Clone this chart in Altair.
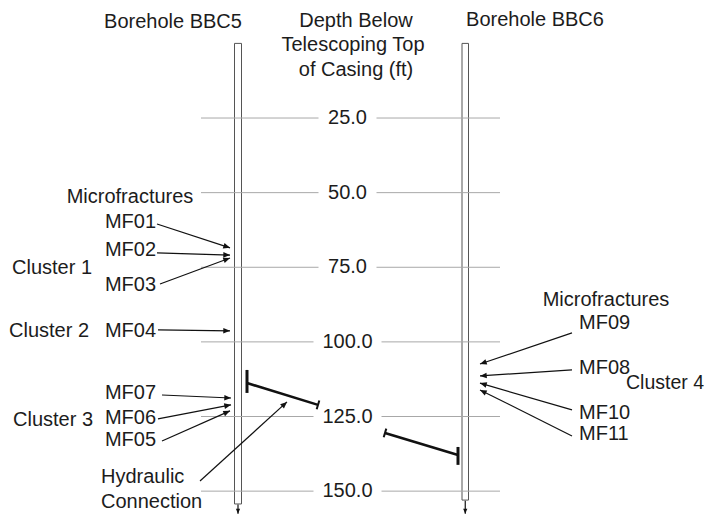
import math
import pandas as pd
import altair as alt

# ---------------- data ----------------
# depth grid (ft below telescoping top of casing)
depth_ticks = [25, 50, 75, 100, 125, 150]
depth_labels = ["25.0", "50.0", "75.0", "100.0", "125.0", "150.0"]

# boreholes: horizontal position (diagram units) and total depth (ft)
bore_names = ["BBC5", "BBC6"]
bore_x_left = [234.5, 462.0]
bore_x_right = [241.5, 468.5]
bore_bottom = [154.3, 153.0]

# microfracture arrows: label end (x1, d1) -> fracture at borehole (x2, d2)
arrow_names = ["MF01", "MF02", "MF03", "MF04", "MF07", "MF06", "MF05", "Hydraulic",
               "MF09", "MF08", "MF10", "MF11"]
arrow_x1 = [157, 157, 160, 158, 162, 158, 162, 200, 572, 572, 572, 572]
arrow_d1 = [60.5, 70.2, 80.6, 96.0, 117.8, 125.8, 133.2, 146.6, 97.0, 109.4, 122.8, 131.5]
arrow_x2 = [230, 230, 230, 230, 231, 231, 230, 287, 480, 480, 480, 480]
arrow_d2 = [68.5, 70.9, 71.9, 96.3, 118.8, 121.1, 123.1, 120.1, 107.4, 111.4, 113.8, 116.1]

# hydraulic connection segments (BBC5 interval -> BBC6 interval)
hyd_x1 = [247, 385]
hyd_d1 = [113.8, 130.5]
hyd_x2 = [318, 458]
hyd_d2 = [121.1, 137.9]
# end bars at the borehole ends
bar_x = [247, 458]
bar_d1 = [109.4, 135.2]
bar_d2 = [117.1, 141.2]

# text labels
lab_text = ["MF01", "MF02", "MF03", "MF04", "MF07", "MF06", "MF05",
            "MF09", "MF08", "MF10", "MF11"]
lab_x = [156, 156, 156, 156, 156, 156, 156, 579, 579, 579, 579]
lab_d = [59.8, 69.2, 80.9, 96.3, 117.2, 125.6, 132.9, 93.8, 108.7, 123.9, 131.0]
lab_align = ["right"] * 7 + ["left"] * 4

other_text = ["Cluster 1", "Cluster 2", "Cluster 3",
              "Hydraulic", "Connection"]
other_x = [12, 9, 13, 101, 101]
other_d = [75.2, 96.3, 126.2, 145.3, 153.7]

# right-edge label (sits against the right border)
edge_text = ["Cluster 4"]
edge_x = [704]
edge_d = [113.8]

center_text = ["Borehole BBC5", "Borehole BBC6", "Depth Below", "Telescoping Top",
               "of Casing (ft)", "Microfractures", "Microfractures"]
center_x = [173, 535, 356, 353, 356, 130, 606]
center_d = [-7.2, -7.7, -7.6, 0.5, 8.9, 51.5, 85.9]

# ---------------- helpers ----------------
PX_PER_FT = 2.985
FONT = "Liberation Sans"
TXT = "#1c1c1c"

xs = alt.Scale(domain=[8, 704], nice=False, zero=False)
ys = alt.Scale(domain=[-11.86, 154.98], nice=False, zero=False, reverse=True)


def X(f):
    return alt.X(f, type="quantitative", scale=xs, axis=None)


def X2(f):
    return alt.X2(f)


def Y(f):
    return alt.Y(f, type="quantitative", scale=ys, axis=None)


def Y2(f):
    return alt.Y2(f)


ARROW = "M0,0L-1,-0.42L-1,0.42Z"

# grid segments (leave a gap for the labels)
grid_rows = []
for t, lab in zip(depth_ticks, depth_labels):
    half = 29 + 5 * (len(lab) - 4)
    grid_rows.append({"x1": 201, "x2": 347.5 - half, "d": t})
    grid_rows.append({"x1": 347.5 + half, "x2": 500, "d": t})
grid_df = pd.DataFrame(grid_rows)
grid_lab_df = pd.DataFrame({"x": [347.5] * len(depth_ticks), "d": depth_ticks, "t": depth_labels})

bore_df = pd.DataFrame({"name": bore_names, "xl": bore_x_left, "xr": bore_x_right,
                        "top": [0, 0], "bot": bore_bottom})

arr_df = pd.DataFrame({"n": arrow_names, "x1": arrow_x1, "d1": arrow_d1,
                       "x2": arrow_x2, "d2": arrow_d2})
arr_df["angle"] = [
    math.degrees(math.atan2((b2 - b1) * PX_PER_FT, a2 - a1)) % 360
    for a1, b1, a2, b2 in zip(arr_df.x1, arr_df.d1, arr_df.x2, arr_df.d2)
]

# bottom-of-hole arrows
bot_df = pd.DataFrame({
    "x": [(a + b) / 2 for a, b in zip(bore_x_left, bore_x_right)],
    "d1": [b + 0.2 for b in bore_bottom],
    "d2": [157.6, 157.6],
    "angle": [90, 90],
})

hyd_df = pd.DataFrame({"x1": hyd_x1, "d1": hyd_d1, "x2": hyd_x2, "d2": hyd_d2})
bar_df = pd.DataFrame({"x": bar_x, "d1": bar_d1, "d2": bar_d2})

# small perpendicular ticks at the free ends of the hydraulic segments
tick_rows = []
for (ex, ed), (ox, od) in [((hyd_x2[0], hyd_d2[0]), (hyd_x1[0], hyd_d1[0])),
                           ((hyd_x1[1], hyd_d1[1]), (hyd_x2[1], hyd_d2[1]))]:
    dx = ex - ox
    dy = (ed - od) * PX_PER_FT
    L = math.hypot(dx, dy)
    px, py = -dy / L * 4.5, dx / L * 4.5
    tick_rows.append({"x1": ex - px, "d1": ed - py / PX_PER_FT,
                      "x2": ex + px, "d2": ed + py / PX_PER_FT})
tick_df = pd.DataFrame(tick_rows)

lab_df = pd.DataFrame({"t": lab_text, "x": lab_x, "d": lab_d, "al": lab_align})
lab_left = lab_df[lab_df.al == "right"]
lab_right = lab_df[lab_df.al == "left"]
other_df = pd.DataFrame({"t": other_text, "x": other_x, "d": other_d})
edge_df = pd.DataFrame({"t": edge_text, "x": edge_x, "d": edge_d})
center_df = pd.DataFrame({"t": center_text, "x": center_x, "d": center_d})

# ---------------- layers ----------------
tubes = alt.Chart(bore_df).mark_rect(fill="white", fillOpacity=0, stroke="#555555",
                                     strokeWidth=1).encode(
    x=X("xl"), x2=X2("xr"), y=Y("top"), y2=Y2("bot"))

grid = alt.Chart(grid_df).mark_rule(color="#a8a8a8", strokeWidth=1).encode(
    x=X("x1"), x2=X2("x2"), y=Y("d"))

grid_text = alt.Chart(grid_lab_df).mark_text(font=FONT, fontSize=20, color=TXT,
                                             align="center", baseline="middle").encode(
    x=X("x"), y=Y("d"), text="t:N")

arr_lines = alt.Chart(arr_df).mark_rule(color="#111111", strokeWidth=1.2).encode(
    x=X("x1"), y=Y("d1"), x2=X2("x2"), y2=Y2("d2"))

arr_heads = alt.Chart(arr_df).mark_point(shape=ARROW, filled=True, size=180,
                                         color="#111111", opacity=1).encode(
    x=X("x2"), y=Y("d2"), angle=alt.Angle("angle:Q", scale=None))

bot_lines = alt.Chart(bot_df).mark_rule(color="#111111", strokeWidth=1.2).encode(
    x=X("x"), y=Y("d1"), y2=Y2("d2"))

bot_heads = alt.Chart(bot_df).mark_point(shape=ARROW, filled=True, size=100,
                                         color="#111111", opacity=1).encode(
    x=X("x"), y=Y("d2"), angle=alt.Angle("angle:Q", scale=None))

hyd = alt.Chart(hyd_df).mark_rule(color="#111111", strokeWidth=2.6).encode(
    x=X("x1"), y=Y("d1"), x2=X2("x2"), y2=Y2("d2"))

bars = alt.Chart(bar_df).mark_rule(color="#111111", strokeWidth=3).encode(
    x=X("x"), y=Y("d1"), y2=Y2("d2"))

ticks = alt.Chart(tick_df).mark_rule(color="#111111", strokeWidth=2).encode(
    x=X("x1"), y=Y("d1"), x2=X2("x2"), y2=Y2("d2"))

t_left = alt.Chart(lab_left).mark_text(font=FONT, fontSize=20, color=TXT,
                                       align="right", baseline="middle").encode(
    x=X("x"), y=Y("d"), text="t:N")
t_right = alt.Chart(lab_right).mark_text(font=FONT, fontSize=20, color=TXT,
                                         align="left", baseline="middle").encode(
    x=X("x"), y=Y("d"), text="t:N")
t_other = alt.Chart(other_df).mark_text(font=FONT, fontSize=20, color=TXT,
                                        align="left", baseline="middle").encode(
    x=X("x"), y=Y("d"), text="t:N")
t_edge = alt.Chart(edge_df).mark_text(font=FONT, fontSize=19.5, color=TXT,
                                      align="right", baseline="middle").encode(
    x=X("x"), y=Y("d"), text="t:N")
t_center = alt.Chart(center_df).mark_text(font=FONT, fontSize=20, color=TXT,
                                          align="center", baseline="middle").encode(
    x=X("x"), y=Y("d"), text="t:N")

chart = alt.layer(
    tubes, grid, grid_text, arr_lines, arr_heads, bot_lines, bot_heads,
    hyd, bars, ticks, t_left, t_right, t_other, t_edge, t_center
).properties(
    width=696, height=498,
    autosize=alt.AutoSizeParams(type="none"),
    padding={"left": 0, "top": 0, "right": 0, "bottom": 8},
    background="white",
).configure_view(stroke="transparent", strokeWidth=0)

chart.save("out.html", embed_options={"renderer": "svg", "actions": False})
